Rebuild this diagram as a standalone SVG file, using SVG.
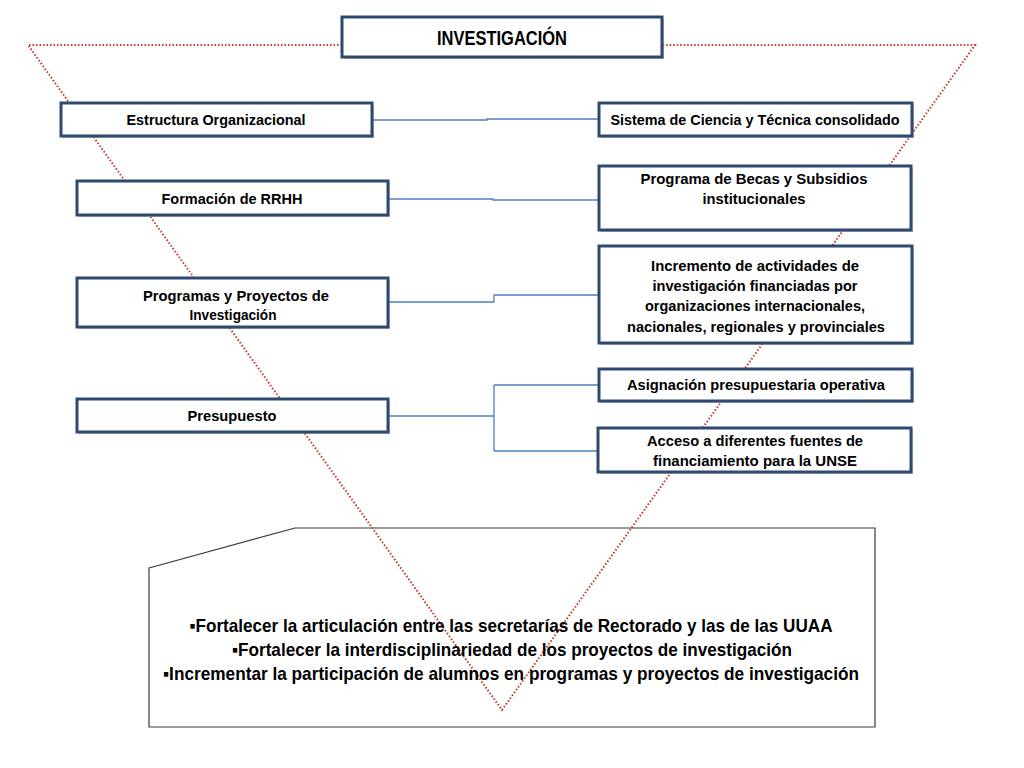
<svg xmlns="http://www.w3.org/2000/svg" width="1024" height="768" viewBox="0 0 1024 768">
<style>
.bx{fill:#fff;stroke:#2e4a72;stroke-width:3}
.sh{fill:#9a9a9a;opacity:0.6}
.t{font-family:"Liberation Sans",Arial,sans-serif;font-weight:bold;font-size:15px;fill:#000;text-anchor:middle}
.big{font-size:19px}
.con{fill:none;stroke:#4f7fbf;stroke-width:1.3}
.tri{fill:none;stroke:#c0392b;stroke-width:2;stroke-dasharray:1.5 2}
</style>
<rect width="1024" height="768" fill="#fff"/>
<g id="bottom-box">
<polygon points="149,568 295,528 875,528 875,727 149,727" fill="#fff" stroke="#3a3a3a" stroke-width="1.2"/>
</g>
<g id="triangle">
<polyline class="tri" points="342,45 28,45 502,710 975,45 662,45"/>
</g>
<g id="bottom-text">
<text class="t big" x="511" y="632" textLength="643" lengthAdjust="spacingAndGlyphs">▪Fortalecer la articulación entre las secretarías de Rectorado y las de las UUAA</text>
<text class="t big" x="512" y="656" textLength="560" lengthAdjust="spacingAndGlyphs">▪Fortalecer la interdisciplinariedad de los proyectos de investigación</text>
<text class="t big" x="511" y="680" textLength="696" lengthAdjust="spacingAndGlyphs">▪Incrementar la participación de alumnos en programas y proyectos de investigación</text>
</g>
<g id="connectors">
<path class="con" d="M372,120 H487 V119 H599"/>
<path class="con" d="M388,199 H493 V200 H599"/>
<path class="con" d="M388,302 H494 V295 H599"/>
<path class="con" d="M388,416 H494 M494,385 V451 M494,385 H599 M494,451 H599"/>
</g>
<g id="investigacion">
<rect class="sh" x="344" y="19" width="320" height="40"/>
<rect class="bx" x="342" y="17" width="320" height="40"/>
<text class="t" style="font-size:20px" x="502" y="45" textLength="130" lengthAdjust="spacingAndGlyphs">INVESTIGACIÓN</text>
</g>
<g id="estructura">
<rect class="sh" x="63" y="105" width="311" height="33"/>
<rect class="bx" x="61" y="103" width="311" height="33"/>
<text class="t" x="216" y="125" textLength="179" lengthAdjust="spacingAndGlyphs">Estructura Organizacional</text>
</g>
<g id="formacion">
<rect class="sh" x="79" y="183" width="311" height="34"/>
<rect class="bx" x="77" y="181" width="311" height="34"/>
<text class="t" x="232" y="204" textLength="141" lengthAdjust="spacingAndGlyphs">Formación de RRHH</text>
</g>
<g id="programas">
<rect class="sh" x="79" y="280" width="311" height="49"/>
<rect class="bx" x="77" y="278" width="311" height="49"/>
<text class="t" x="236" y="301" textLength="186" lengthAdjust="spacingAndGlyphs">Programas y Proyectos de</text>
<text class="t" x="233" y="320" textLength="87" lengthAdjust="spacingAndGlyphs">Investigación</text>
</g>
<g id="presupuesto">
<rect class="sh" x="79" y="401" width="311" height="33"/>
<rect class="bx" x="77" y="399" width="311" height="33"/>
<text class="t" x="232" y="421" textLength="89" lengthAdjust="spacingAndGlyphs">Presupuesto</text>
</g>
<g id="sistema">
<rect class="sh" x="601" y="105" width="313" height="33"/>
<rect class="bx" x="599" y="103" width="313" height="33"/>
<text class="t" x="755" y="125" textLength="289" lengthAdjust="spacingAndGlyphs">Sistema de Ciencia y Técnica consolidado</text>
</g>
<g id="becas">
<rect class="sh" x="601" y="168" width="312" height="64"/>
<rect class="bx" x="599" y="166" width="312" height="64"/>
<text class="t" x="754" y="184" textLength="227" lengthAdjust="spacingAndGlyphs">Programa de Becas y Subsidios</text>
<text class="t" x="754" y="204" textLength="103" lengthAdjust="spacingAndGlyphs">institucionales</text>
</g>
<g id="incremento">
<rect class="sh" x="601" y="248" width="313" height="97"/>
<rect class="bx" x="599" y="246" width="313" height="97"/>
<text class="t" x="755" y="271" textLength="208" lengthAdjust="spacingAndGlyphs">Incremento de actividades de</text>
<text class="t" x="755" y="291" textLength="205" lengthAdjust="spacingAndGlyphs">investigación financiadas por</text>
<text class="t" x="755" y="311" textLength="220" lengthAdjust="spacingAndGlyphs">organizaciones internacionales,</text>
<text class="t" x="756" y="332" textLength="258" lengthAdjust="spacingAndGlyphs">nacionales, regionales y provinciales</text>
</g>
<g id="asignacion">
<rect class="sh" x="601" y="371" width="313" height="32"/>
<rect class="bx" x="599" y="369" width="313" height="32"/>
<text class="t" x="756" y="390" textLength="258" lengthAdjust="spacingAndGlyphs">Asignación presupuestaria operativa</text>
</g>
<g id="acceso">
<rect class="sh" x="600" y="430" width="313" height="44"/>
<rect class="bx" x="598" y="428" width="313" height="44"/>
<text class="t" x="755" y="446" textLength="216" lengthAdjust="spacingAndGlyphs">Acceso a diferentes fuentes de</text>
<text class="t" x="755" y="466" textLength="204" lengthAdjust="spacingAndGlyphs">financiamiento para la UNSE</text>
</g>
</svg>
